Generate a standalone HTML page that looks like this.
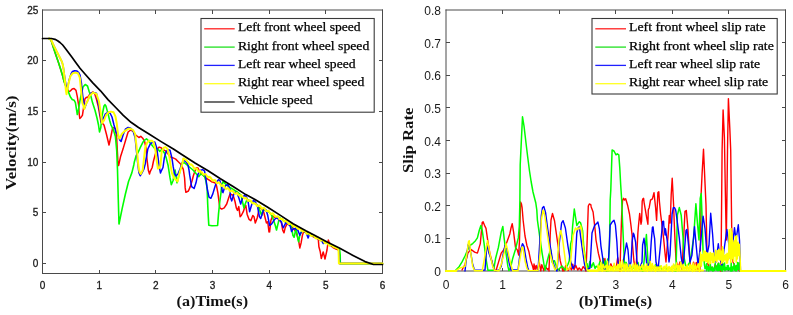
<!DOCTYPE html><html><head><meta charset="utf-8"><style>html,body{margin:0;padding:0;background:#fff;width:793px;height:315px;overflow:hidden}svg{display:block;will-change:transform}</style></head><body><svg width="793" height="315" viewBox="0 0 793 315">
<rect width="793" height="315" fill="#fff"/>
<g stroke="#4a4a4a" stroke-width="1" fill="none" shape-rendering="crispEdges">
</g>
<g stroke="#4a4a4a" stroke-width="1" fill="none"><line x1="42.5" y1="9.5" x2="42.5" y2="274"/><line x1="382.5" y1="9.5" x2="382.5" y2="274"/><line x1="42" y1="10.0" x2="383" y2="10.0"/><line x1="42" y1="273.5" x2="383" y2="273.5"/></g>
<g stroke="#4a4a4a" stroke-width="1" fill="none" shape-rendering="crispEdges">
<line x1="99.2" y1="273.5" x2="99.2" y2="270.0"/><line x1="99.2" y1="10.0" x2="99.2" y2="13.5"/>
<line x1="155.8" y1="273.5" x2="155.8" y2="270.0"/><line x1="155.8" y1="10.0" x2="155.8" y2="13.5"/>
<line x1="212.5" y1="273.5" x2="212.5" y2="270.0"/><line x1="212.5" y1="10.0" x2="212.5" y2="13.5"/>
<line x1="269.2" y1="273.5" x2="269.2" y2="270.0"/><line x1="269.2" y1="10.0" x2="269.2" y2="13.5"/>
<line x1="325.8" y1="273.5" x2="325.8" y2="270.0"/><line x1="325.8" y1="10.0" x2="325.8" y2="13.5"/>
<line x1="42.5" y1="263.4" x2="46.0" y2="263.4"/><line x1="382.5" y1="263.4" x2="379.0" y2="263.4"/>
<line x1="42.5" y1="212.7" x2="46.0" y2="212.7"/><line x1="382.5" y1="212.7" x2="379.0" y2="212.7"/>
<line x1="42.5" y1="162.0" x2="46.0" y2="162.0"/><line x1="382.5" y1="162.0" x2="379.0" y2="162.0"/>
<line x1="42.5" y1="111.3" x2="46.0" y2="111.3"/><line x1="382.5" y1="111.3" x2="379.0" y2="111.3"/>
<line x1="42.5" y1="60.7" x2="46.0" y2="60.7"/><line x1="382.5" y1="60.7" x2="379.0" y2="60.7"/>
</g>
<g font-family="Liberation Sans, sans-serif" font-size="10" fill="#1a1a1a" stroke="#1a1a1a" stroke-width="0.3">
<text x="42.5" y="288.8" text-anchor="middle">0</text>
<text x="99.2" y="288.8" text-anchor="middle">1</text>
<text x="155.8" y="288.8" text-anchor="middle">2</text>
<text x="212.5" y="288.8" text-anchor="middle">3</text>
<text x="269.2" y="288.8" text-anchor="middle">4</text>
<text x="325.8" y="288.8" text-anchor="middle">5</text>
<text x="382.5" y="288.8" text-anchor="middle">6</text>
<text x="38.3" y="267.0" text-anchor="end">0</text>
<text x="38.3" y="216.3" text-anchor="end">5</text>
<text x="38.3" y="165.6" text-anchor="end">10</text>
<text x="38.3" y="114.9" text-anchor="end">15</text>
<text x="38.3" y="64.3" text-anchor="end">20</text>
<text x="38.3" y="13.6" text-anchor="end">25</text>
</g>
<polyline points="49.0,38.5 51.0,40.0 53.2,46.9 55.7,54.5 58.3,62.1 60.8,69.7 62.7,76.1 63.8,80.5 65.2,84.5 67.0,88.0 68.4,91.6 70.3,91.0 72.2,89.0 74.1,88.5 76.0,90.4 77.3,96.7 78.6,105.0 79.2,114.0 79.8,118.5 81.1,117.2 82.4,115.3 83.6,107.7 84.9,99.0 86.2,97.5 88.0,97.0 90.0,94.0 92.6,92.0 94.5,93.2 96.4,99.0 98.3,106.6 99.6,114.2 100.9,121.8 104.0,125.0 106.5,134.5 109.0,145.0 111.0,136.0 112.5,128.5 114.0,127.5 115.4,128.8 116.7,138.0 117.3,150.4 118.0,163.0 118.6,165.5 120.5,156.8 123.0,149.1 125.6,140.2 128.1,132.0 130.7,130.0 133.2,131.4 135.7,135.0 138.9,137.5 140.8,136.3 142.7,138.2 144.6,141.3 145.9,147.7 147.1,160.4 148.4,170.6 149.5,174.0 150.3,171.3 152.2,167.5 153.5,161.0 155.4,154.0 157.3,149.0 159.2,147.1 161.1,147.7 163.0,149.6 165.6,150.9 168.1,154.0 170.6,157.2 173.2,157.9 175.7,159.1 178.3,161.7 180.8,164.2 183.3,169.3 184.6,178.0 185.2,187.9 185.9,192.3 188.4,191.0 190.3,186.6 192.2,180.2 193.5,175.2 195.0,171.0 196.3,167.7 198.0,168.0 200.0,172.0 203.0,175.0 205.5,177.5 207.7,179.1 209.6,180.4 211.5,181.7 213.4,182.3 215.3,183.0 216.6,186.1 217.9,193.1 218.8,200.0 219.8,207.9 221.7,209.1 224.2,207.9 226.7,204.0 228.7,197.7 230.0,194.0 233.1,195.2 235.0,201.5 236.3,207.9 237.5,210.4 238.8,206.6 240.1,216.7 241.3,215.5 243.3,211.7 244.5,207.9 245.8,205.3 247.1,214.2 249.0,219.3 250.9,220.6 252.8,215.5 254.0,216.7 255.3,223.1 257.2,218.0 258.5,212.0 259.4,207.7 261.0,208.0 263.6,211.7 265.5,219.3 266.4,222.9 267.7,221.7 269.0,232.0 269.6,231.8 270.9,220.4 272.5,216.0 276.0,218.0 279.0,219.0 281.4,222.6 282.7,230.2 284.0,232.8 285.2,227.7 287.0,224.0 290.0,225.0 293.0,228.0 296.0,232.0 298.6,240.4 299.8,248.0 301.1,242.9 302.4,235.3 303.7,231.5 306.0,232.0 309.4,234.0 312.0,236.0 315.0,237.5 318.3,239.1 318.9,246.7 320.2,251.5 321.3,258.5 323.2,252.0 325.0,259.0 327.0,250.0 328.3,240.0 329.0,241.7 331.0,246.0 333.0,247.5 336.0,249.0 338.6,250.0 339.2,255.0 339.6,263.6 382.5,263.6" fill="none" stroke="#ff0000" stroke-width="1.5" stroke-linejoin="round" stroke-linecap="round"/>
<polyline points="49.0,38.5 51.0,40.0 53.2,46.9 55.7,54.5 58.3,62.1 60.8,69.7 62.7,76.1 63.8,80.5 65.2,85.0 67.8,90.4 70.3,96.8 72.2,99.5 74.1,100.2 75.4,102.6 76.6,110.2 77.3,114.5 78.6,109.0 79.8,101.3 81.1,95.0 83.0,87.0 85.2,84.5 87.5,86.0 89.3,92.0 90.6,95.0 92.5,102.6 95.0,110.2 97.0,118.0 98.5,125.0 99.5,132.0 100.8,127.5 102.0,116.0 104.0,106.0 105.0,104.7 105.9,105.9 107.8,112.9 109.7,120.5 111.0,125.0 113.5,130.1 115.4,136.4 116.7,150.4 117.5,170.0 118.3,200.0 119.0,224.0 122.2,208.3 125.4,194.0 128.6,181.3 130.0,177.7 131.9,172.6 133.8,165.0 134.4,161.7 136.3,155.3 138.3,152.0 140.2,147.7 142.7,142.6 144.6,140.1 146.5,138.8 149.0,141.3 151.0,143.9 153.5,147.1 155.4,149.0 157.9,149.0 159.8,151.5 161.7,149.6 164.3,152.8 166.2,157.9 168.1,165.5 170.0,177.7 171.3,184.7 173.2,180.2 174.4,172.6 175.1,170.1 176.0,176.0 177.0,182.8 178.3,177.7 180.2,170.1 182.1,163.0 184.6,162.9 187.0,165.0 190.0,167.5 193.0,170.0 196.0,173.5 198.8,176.6 200.7,174.0 202.6,174.7 204.5,176.6 205.8,180.4 207.1,188.0 207.7,204.0 208.3,216.7 208.8,225.3 212.0,225.8 217.6,225.5 218.5,214.0 219.8,201.5 221.0,192.6 221.7,185.0 223.0,181.7 226.0,184.5 230.0,187.5 234.0,190.0 238.0,192.5 241.0,195.0 243.9,207.9 245.2,204.0 247.0,199.5 251.0,201.5 255.0,203.5 258.0,206.0 259.8,210.4 261.7,215.5 263.0,210.0 266.0,210.5 269.0,212.0 270.9,214.0 272.8,217.9 275.3,225.5 276.5,230.0 278.3,222.6 279.5,217.5 283.0,220.5 287.0,223.0 290.5,225.0 291.6,227.7 292.9,235.3 294.1,237.2 295.4,231.5 296.0,227.7 296.7,231.5 297.9,239.1 298.6,241.7 299.8,235.3 302.0,230.5 306.8,232.5 308.1,234.5 310.0,234.0 314.0,236.2 317.0,237.8 320.0,239.3 325.0,242.2 330.0,244.8 335.0,247.2 339.6,249.5 340.2,255.0 340.3,263.6 382.5,263.6" fill="none" stroke="#00ff00" stroke-width="1.6" stroke-linejoin="round" stroke-linecap="round"/>
<polyline points="49.0,38.5 51.0,39.5 53.8,45.6 57.0,52.0 60.2,58.3 62.1,62.1 63.3,67.2 64.2,73.6 65.3,81.0 66.5,88.0 67.5,88.5 69.0,80.2 71.0,74.0 72.5,71.5 74.7,70.7 77.0,71.0 78.9,72.8 80.0,75.0 81.4,82.9 82.7,95.6 83.6,101.3 84.9,107.7 86.5,103.0 88.0,100.0 90.7,93.2 93.2,92.6 96.4,93.2 97.7,100.2 99.6,110.4 100.9,118.0 101.5,123.0 102.8,119.3 105.3,114.2 107.8,112.3 110.0,113.0 112.0,117.0 114.0,125.0 116.0,132.0 118.0,135.2 119.9,140.2 121.1,141.5 123.0,135.2 125.6,128.8 128.1,127.5 130.7,128.2 133.2,131.4 135.1,137.7 136.4,150.4 137.7,163.1 138.9,172.6 140.2,175.8 142.1,172.6 144.0,168.8 145.2,164.0 147.8,149.0 150.3,143.9 152.2,142.6 154.8,142.0 156.7,147.7 157.9,156.6 159.2,166.7 160.5,173.1 161.1,171.3 163.0,167.5 164.3,157.9 166.2,151.5 168.1,149.6 170.0,150.2 171.9,157.9 173.2,166.7 174.4,173.1 176.0,176.0 178.0,174.0 180.0,169.0 183.3,160.0 185.9,161.7 187.8,164.2 189.0,170.0 189.7,175.2 191.6,186.6 194.1,188.5 196.0,182.8 197.5,175.3 198.8,172.8 200.7,170.2 202.6,169.6 204.5,170.9 205.8,177.9 207.1,188.0 209.0,197.1 210.9,198.3 212.8,193.9 214.7,187.5 216.6,181.7 218.5,179.8 219.8,180.4 221.7,186.7 222.3,191.8 223.0,192.6 224.2,188.8 225.5,185.5 228.0,184.8 229.9,189.3 230.6,197.7 231.8,200.9 233.1,196.4 234.4,192.6 236.9,192.6 238.8,197.7 240.7,204.0 242.6,197.7 244.5,195.2 246.5,197.0 248.3,202.8 249.6,211.7 251.5,205.3 253.4,200.2 255.5,202.0 257.5,206.4 259.4,216.6 260.7,218.5 262.6,212.8 263.9,209.0 266.0,210.0 267.7,215.3 269.6,225.5 271.5,224.2 274.0,220.4 276.0,217.9 278.0,218.5 279.8,220.4 281.4,222.0 282.3,225.5 283.3,227.7 284.6,225.2 285.9,222.6 288.0,223.5 290.3,226.4 291.6,231.5 292.9,229.0 295.0,228.5 297.9,230.2 299.8,235.3 301.1,232.5 303.0,231.0 306.0,232.2 308.1,238.0 309.4,234.5 312.0,235.0 315.7,237.0 318.0,238.5 322.1,241.5 323.3,243.5 325.0,242.5 330.3,244.5 334.0,246.3 338.6,248.8 339.2,255.0 339.6,263.6 382.5,263.6" fill="none" stroke="#0000ff" stroke-width="1.5" stroke-linejoin="round" stroke-linecap="round"/>
<polyline points="49.0,38.5 51.0,39.5 53.8,45.6 57.0,52.0 60.2,58.3 62.1,62.1 63.3,67.2 64.0,73.6 64.6,78.0 65.3,84.0 65.9,90.4 66.5,94.2 68.4,84.0 70.3,76.4 72.8,73.2 75.4,72.6 77.9,73.2 79.8,77.7 81.1,90.4 82.4,103.0 83.5,106.0 84.3,109.0 85.5,105.0 86.8,102.6 88.0,100.0 89.3,96.3 91.5,94.0 93.2,92.6 96.4,93.9 99.0,101.5 100.9,114.2 102.1,123.0 104.0,120.5 105.9,115.5 108.5,112.3 111.0,111.6 113.6,112.3 115.5,116.7 116.7,123.0 118.0,134.0 119.3,138.5 120.0,137.7 121.8,134.0 124.3,131.4 128.1,128.8 130.7,128.8 133.2,130.1 135.1,133.9 136.4,145.3 137.7,158.0 138.3,165.0 139.5,171.8 140.8,173.9 142.7,170.1 143.3,165.0 145.2,147.7 147.1,142.6 149.0,140.7 151.6,140.7 153.5,142.0 155.4,150.2 156.7,160.4 157.9,168.5 159.8,167.5 160.5,165.0 161.7,151.5 163.7,147.7 165.6,147.1 167.5,149.0 169.4,156.6 170.6,165.5 171.9,173.1 173.8,177.7 177.6,181.5 178.9,175.2 180.8,168.8 182.1,165.0 183.3,158.5 185.9,159.8 188.4,162.7 189.3,163.9 190.3,164.7 191.2,164.3 192.2,165.2 193.1,166.3 194.1,168.4 195.0,168.5 195.9,168.8 196.7,168.5 197.6,170.1 198.5,171.3 199.4,171.9 200.2,170.8 201.1,172.0 201.9,172.2 202.8,174.0 203.6,174.6 204.4,174.2 205.2,174.1 206.1,174.6 206.9,176.4 207.7,176.5 208.6,177.5 209.5,176.8 210.4,177.4 211.3,178.6 212.2,180.4 213.1,180.3 214.0,180.5 214.8,180.0 215.6,180.9 216.4,182.9 217.2,183.3 218.0,182.7 218.8,182.3 219.6,183.2 220.4,184.3 221.2,185.8 222.1,186.0 222.9,185.2 223.7,185.4 224.5,187.0 225.3,188.4 226.2,189.0 227.0,188.5 227.9,188.1 228.7,188.7 229.6,190.7 230.5,191.4 231.4,190.9 232.2,190.5 233.1,191.8 233.9,192.6 234.8,193.7 235.6,193.7 236.5,192.9 237.3,193.2 238.2,194.8 239.0,195.0 239.9,196.1 240.7,195.3 241.6,195.4 242.4,196.8 243.3,197.3 244.1,198.6 244.9,198.5 245.7,197.7 246.6,198.6 247.4,200.1 248.2,201.0 249.0,200.5 249.9,200.3 250.7,200.4 251.6,201.9 252.4,203.1 253.3,203.6 254.1,203.3 255.0,203.6 255.9,203.9 256.7,205.5 257.6,206.2 258.4,205.5 259.3,205.4 260.1,205.9 261.0,207.3 261.8,208.8 262.7,208.4 263.5,207.8 264.4,208.2 265.2,209.7 266.0,210.8 266.9,211.2 267.7,211.0 268.6,210.6 269.5,212.2 270.4,213.7 271.3,214.1 272.2,213.2 273.1,213.4 274.0,215.0 274.9,216.1 275.8,216.8 276.7,216.6 277.7,216.2 278.6,217.4 279.5,219.2 280.4,218.8 281.2,219.1 282.1,218.7 282.9,219.8 283.7,220.9 284.5,221.6 285.4,221.0 286.2,220.8 287.0,222.0 287.9,222.7 288.7,224.0 289.6,223.9 290.5,223.3 291.4,223.7 292.2,225.2 293.1,225.6 293.9,226.4 294.8,226.0 295.6,225.9 296.5,227.2 297.3,228.3 298.2,229.1 299.0,228.6 299.9,228.1 300.7,228.9 301.6,230.5 302.4,231.4 303.2,231.3 304.1,230.6 304.9,230.8 305.8,232.3 306.6,233.7 307.5,233.7 308.3,233.4 309.2,233.0 310.0,234.4 310.9,235.7 311.9,235.9 312.8,235.4 313.8,235.3 314.7,236.7 315.6,238.2 316.5,238.5 317.4,237.9 318.2,237.6 319.1,239.3 320.0,239.5 320.9,240.8 321.8,240.1 322.7,240.0 323.6,241.1 324.4,242.7 325.3,243.3 326.2,242.7 327.1,243.4 327.9,243.6 328.8,244.9 329.6,245.7 330.5,244.9 331.3,244.9 332.2,245.4 333.0,246.5 338.4,248.7 338.7,255.0 338.9,263.6 382.5,263.6" fill="none" stroke="#ffff00" stroke-width="2.0" stroke-linejoin="round" stroke-linecap="round"/>
<polyline points="42.5,38.5 51.4,38.5 55.0,39.3 57.6,40.7 60.0,42.5 62.7,45.0 66.0,49.2 69.0,53.3 72.0,57.3 75.4,62.0 80.0,68.2 85.2,74.3 92.8,82.9 100.5,90.8 108.0,99.6 115.7,107.5 123.3,115.3 131.0,122.3 138.5,127.5 148.6,133.8 161.1,141.6 173.8,149.3 181.4,154.3 195.0,163.0 207.7,170.5 220.4,178.7 233.1,186.5 245.8,194.6 255.0,199.6 267.7,207.3 280.4,215.4 293.1,223.7 305.8,230.8 314.5,235.3 327.1,241.9 339.8,248.3 353.0,255.4 365.0,261.6 373.5,264.5 382.5,264.5" fill="none" stroke="#000000" stroke-width="1.7" stroke-linejoin="round" stroke-linecap="round"/>
<g stroke="#4a4a4a" stroke-width="1" fill="none" shape-rendering="crispEdges">
</g>
<g stroke="#4a4a4a" stroke-width="1" fill="none"><line x1="446.0" y1="9.5" x2="446.0" y2="271.5"/><line x1="785.5" y1="9.5" x2="785.5" y2="271.5"/><line x1="445.5" y1="10.0" x2="786" y2="10.0"/><line x1="445.5" y1="271.0" x2="786" y2="271.0"/></g>
<g stroke="#4a4a4a" stroke-width="1" fill="none" shape-rendering="crispEdges">
<line x1="502.6" y1="271.0" x2="502.6" y2="267.5"/><line x1="502.6" y1="10.0" x2="502.6" y2="13.5"/>
<line x1="559.2" y1="271.0" x2="559.2" y2="267.5"/><line x1="559.2" y1="10.0" x2="559.2" y2="13.5"/>
<line x1="615.8" y1="271.0" x2="615.8" y2="267.5"/><line x1="615.8" y1="10.0" x2="615.8" y2="13.5"/>
<line x1="672.3" y1="271.0" x2="672.3" y2="267.5"/><line x1="672.3" y1="10.0" x2="672.3" y2="13.5"/>
<line x1="728.9" y1="271.0" x2="728.9" y2="267.5"/><line x1="728.9" y1="10.0" x2="728.9" y2="13.5"/>
<line x1="446.0" y1="238.4" x2="449.5" y2="238.4"/><line x1="785.5" y1="238.4" x2="782.0" y2="238.4"/>
<line x1="446.0" y1="205.8" x2="449.5" y2="205.8"/><line x1="785.5" y1="205.8" x2="782.0" y2="205.8"/>
<line x1="446.0" y1="173.1" x2="449.5" y2="173.1"/><line x1="785.5" y1="173.1" x2="782.0" y2="173.1"/>
<line x1="446.0" y1="140.5" x2="449.5" y2="140.5"/><line x1="785.5" y1="140.5" x2="782.0" y2="140.5"/>
<line x1="446.0" y1="107.9" x2="449.5" y2="107.9"/><line x1="785.5" y1="107.9" x2="782.0" y2="107.9"/>
<line x1="446.0" y1="75.3" x2="449.5" y2="75.3"/><line x1="785.5" y1="75.3" x2="782.0" y2="75.3"/>
<line x1="446.0" y1="42.6" x2="449.5" y2="42.6"/><line x1="785.5" y1="42.6" x2="782.0" y2="42.6"/>
</g>
<g font-family="Liberation Sans, sans-serif" font-size="12" fill="#1a1a1a">
<text x="446.0" y="288.5" text-anchor="middle">0</text>
<text x="502.6" y="288.5" text-anchor="middle">1</text>
<text x="559.2" y="288.5" text-anchor="middle">2</text>
<text x="615.8" y="288.5" text-anchor="middle">3</text>
<text x="672.3" y="288.5" text-anchor="middle">4</text>
<text x="728.9" y="288.5" text-anchor="middle">5</text>
<text x="785.5" y="288.5" text-anchor="middle">6</text>
<text x="441.0" y="276.0" text-anchor="end">0</text>
<text x="441.0" y="243.4" text-anchor="end">0.1</text>
<text x="441.0" y="210.8" text-anchor="end">0.2</text>
<text x="441.0" y="178.1" text-anchor="end">0.3</text>
<text x="441.0" y="145.5" text-anchor="end">0.4</text>
<text x="441.0" y="112.9" text-anchor="end">0.5</text>
<text x="441.0" y="80.3" text-anchor="end">0.6</text>
<text x="441.0" y="47.6" text-anchor="end">0.7</text>
<text x="441.0" y="15.0" text-anchor="end">0.8</text>
</g>
<polyline points="462.0,270.0 465.0,264.5 467.9,253.1 470.8,249.3 474.6,252.1 477.4,253.1 480.3,243.6 482.2,222.6 483.1,221.7 485.0,226.4 486.0,228.3 487.9,241.7 489.8,253.1 492.7,264.5 494.6,270.2 496.0,270.5 498.4,262.6 501.2,253.1 504.1,249.3 507.0,241.7 509.8,234.0 511.0,228.0 512.2,223.6 513.6,232.1 515.5,247.4 517.4,250.2 518.7,255.0 519.5,240.0 520.2,215.0 520.6,202.0 521.5,204.0 522.1,207.6 523.1,220.0 525.0,236.0 526.9,245.5 528.8,251.2 530.7,260.7 532.6,266.4 533.6,270.2 534.0,264.0 535.2,269.2 536.2,265.4 537.6,270.8 539.2,262.2 540.8,270.8 541.8,264.7 543.9,270.7 545.1,266.0 547.3,269.4 548.7,268.2 549.0,271.0 550.2,235.0 551.0,220.0 552.5,213.5 554.5,220.7 556.4,234.0 558.3,247.4 560.2,260.7 562.1,268.3 563.0,271.0 563.0,268.2 564.5,270.7 565.7,265.5 568.0,270.6 569.9,267.1 571.5,269.8 572.7,264.3 574.1,269.6 575.8,265.5 577.7,270.0 579.2,267.9 581.3,270.5 583.2,266.6 585.5,269.5 586.0,271.0 587.0,245.0 588.3,206.0 589.3,204.0 590.8,204.6 591.2,206.9 593.1,212.0 595.0,228.8 596.0,240.0 598.4,253.4 600.9,263.5 602.0,270.0 602.0,266.6 603.0,269.2 604.9,258.5 606.3,270.8 608.0,264.5 609.6,267.3 610.9,263.8 612.5,268.6 614.0,265.2 616.0,269.0 617.7,257.6 619.4,268.3 620.0,271.0 620.7,245.0 621.7,213.6 622.6,200.2 623.6,198.3 624.4,200.1 625.7,198.8 627.6,205.2 629.5,214.0 630.8,224.2 632.1,235.0 632.5,245.0 634.0,262.0 636.0,270.0 637.9,232.6 638.4,226.7 639.7,213.4 641.0,224.2 641.6,221.2 642.2,201.3 642.9,198.8 643.6,198.3 644.1,202.6 645.4,210.2 646.7,217.9 647.9,224.2 648.3,209.8 649.2,207.7 650.5,200.1 652.4,198.8 654.0,192.6 655.6,207.7 656.6,220.4 657.9,192.6 658.8,191.7 659.4,201.3 660.6,214.0 661.9,224.2 663.6,238.3 665.0,253.0 666.0,262.0 668.3,232.6 669.3,215.5 670.2,223.1 671.2,194.5 672.2,178.3 673.6,205.0 674.1,219.0 675.0,240.0 676.0,260.0 678.0,268.0 680.0,262.0 682.0,270.0 685.0,211.4 686.3,210.5 687.9,228.6 689.4,253.3 690.5,268.0 690.5,267.2 691.8,270.0 693.6,262.1 695.2,270.5 696.3,262.4 698.2,270.7 699.5,264.5 700.0,271.0 701.2,192.6 702.1,173.6 703.5,149.2 705.0,183.1 706.0,205.0 706.9,249.5 708.0,265.0 708.0,262.5 709.5,269.5 711.6,267.2 713.7,270.2 715.2,264.3 717.3,268.4 718.4,263.1 719.7,270.4 721.0,271.0 722.1,150.0 723.1,110.0 724.4,137.6 725.5,200.0 726.3,240.0 726.9,200.0 727.5,150.0 728.4,98.6 729.8,128.1 730.7,150.0 731.7,228.6 733.0,262.0 736.0,268.0 740.0,271.0" fill="none" stroke="#ff0000" stroke-width="1.4" stroke-linejoin="round" stroke-linecap="round"/>
<polyline points="446.0,271.0 455.5,270.6 459.3,266.4 462.2,261.7 465.0,256.0 467.9,249.3 469.8,245.5 472.7,243.6 475.5,240.7 477.4,237.9 479.3,230.2 480.9,225.5 482.2,230.2 484.1,243.6 486.0,258.8 487.9,270.2 493.6,270.2 495.5,258.8 498.4,247.4 501.2,232.1 502.8,226.4 504.1,237.9 506.0,253.1 507.9,266.4 508.9,270.6 510.5,268.0 512.6,258.8 515.5,249.3 518.3,237.9 519.3,226.4 519.9,200.0 520.2,165.0 522.5,116.8 524.0,126.0 526.0,143.0 527.7,157.0 529.5,171.0 531.2,182.0 533.0,192.0 535.8,203.0 536.8,210.0 537.4,220.0 538.3,226.4 540.2,239.8 542.1,253.1 544.0,264.5 545.0,270.2 547.0,262.0 548.8,255.0 550.7,250.0 552.0,262.0 554.5,260.7 556.4,266.4 558.0,270.0 562.0,266.0 565.0,270.0 567.9,264.5 569.2,261.0 570.7,243.6 571.7,240.0 572.6,226.4 574.3,209.0 576.8,225.5 579.3,221.7 580.6,222.9 582.6,230.7 583.6,245.0 585.7,261.0 587.0,270.0 587.0,263.4 588.3,271.0 589.8,261.4 591.5,267.3 593.3,262.7 595.1,268.4 596.1,266.2 598.1,267.6 600.0,261.6 601.5,270.6 603.3,258.6 604.3,270.2 605.5,261.1 606.5,271.0 607.7,258.9 608.0,271.0 609.5,245.0 610.2,200.0 610.8,190.0 612.1,150.0 614.0,151.0 616.0,154.8 617.3,153.8 618.8,154.8 619.8,168.1 620.7,185.0 621.7,200.2 622.6,223.1 623.6,245.0 624.5,265.0 626.0,270.0 626.0,262.2 628.6,269.3 630.0,263.6 631.8,270.0 633.2,267.3 636.0,269.7 638.0,262.5 639.3,270.1 640.9,267.2 642.4,270.9 643.0,271.0 644.0,262.0 646.4,234.5 648.0,262.0 648.0,266.0 649.4,269.7 650.7,266.0 653.4,268.9 655.8,264.5 657.5,270.6 660.0,266.0 662.4,270.2 664.0,267.5 666.8,269.0 669.2,267.6 671.6,270.5 673.7,265.0 674.9,270.9 676.0,271.0 677.4,215.0 679.3,207.6 681.2,215.2 683.1,238.1 684.0,257.0 686.0,268.0 690.0,262.0 693.6,238.1 695.9,203.8 697.4,222.9 699.0,240.0 700.2,198.3 701.2,193.6 702.0,215.0 703.0,250.0 704.5,265.5 704.5,264.1 705.0,268.7 705.5,268.2 706.1,268.7 706.5,263.8 706.8,270.7 707.2,266.3 707.8,269.0 708.2,266.5 708.8,271.0 709.3,268.0 709.8,269.2 710.3,263.6 710.8,270.3 711.4,268.4 711.8,270.2 712.4,266.9 712.7,270.9 713.1,268.0 713.6,270.8 714.2,268.5 714.7,270.3 715.2,263.3 715.4,268.7 715.9,265.7 716.5,270.1 717.1,267.5 717.5,270.5 717.9,264.0 718.3,270.5 718.8,263.3 719.4,270.3 719.8,266.1 720.4,270.1 721.0,265.6 721.4,269.8 721.7,265.2 722.1,271.2 722.6,263.5 723.1,269.3 723.5,264.5 724.0,269.8 724.5,263.1 725.0,270.6 725.4,267.2 725.8,269.7 726.4,268.1 726.8,269.6 727.3,265.6 727.8,270.0 728.2,265.4 728.8,269.4 729.4,268.2 729.8,269.7 730.4,267.6 730.7,270.9 731.2,262.9 731.5,271.0 732.0,267.3 732.6,270.8 733.1,266.5 733.5,268.9 734.1,263.8 734.7,270.2 735.1,268.5 735.7,270.8 736.1,265.6 736.5,270.7 736.9,266.9 737.2,269.8 737.6,262.6 738.0,269.6 738.5,262.9 739.1,269.1 739.7,263.1 740.0,271.2 740.5,271.0" fill="none" stroke="#00ff00" stroke-width="1.5" stroke-linejoin="round" stroke-linecap="round"/>
<polyline points="465.0,271.0 466.0,262.0 468.0,245.0 469.0,243.0 470.8,253.1 472.7,264.5 474.6,270.2 485.0,270.0 487.0,243.6 488.9,253.1 491.7,260.7 493.6,268.3 495.0,271.0 499.0,270.0 501.2,266.4 503.0,255.0 505.0,245.5 507.0,249.3 509.0,262.0 511.0,270.0 518.0,270.0 520.5,250.0 522.5,243.6 524.0,246.4 526.0,258.8 527.9,268.3 529.0,271.0 538.0,271.0 540.5,230.0 541.3,215.3 542.5,207.7 543.8,206.4 545.6,212.8 547.6,228.0 550.2,245.8 552.7,261.0 555.2,268.6 557.0,271.0 559.0,245.8 561.6,222.9 563.1,220.7 565.4,228.0 567.9,245.8 570.5,261.0 573.0,268.6 575.0,265.0 576.8,233.0 578.1,228.0 579.3,226.7 581.9,245.8 584.4,263.5 586.0,270.0 590.0,268.0 592.0,233.0 594.6,225.5 597.1,222.9 597.9,222.1 599.4,228.8 600.9,245.8 603.5,263.5 605.0,270.0 608.0,270.0 609.3,245.0 610.2,225.0 612.1,222.1 614.0,220.2 615.4,225.0 616.9,242.1 618.0,262.0 620.0,270.0 622.0,268.0 624.5,255.0 626.5,243.0 628.0,250.0 629.5,268.0 631.0,262.0 632.1,242.1 633.3,233.1 634.0,234.5 635.6,242.1 637.0,262.0 639.0,270.0 642.0,262.0 642.6,245.0 644.0,238.3 645.5,250.0 647.0,268.0 650.0,262.0 651.2,242.1 652.4,227.4 653.1,226.9 653.7,233.1 654.6,238.3 656.0,262.0 658.0,270.0 660.0,250.0 661.7,232.6 662.5,221.7 663.6,221.2 663.8,225.5 665.1,235.0 665.5,228.8 667.4,242.1 669.0,262.0 670.0,255.0 672.1,214.0 673.3,207.7 673.6,207.6 674.6,207.7 675.5,209.5 675.9,211.5 677.1,220.4 678.4,230.6 679.3,238.1 681.2,257.1 683.0,268.0 684.5,250.0 686.0,230.5 686.9,229.5 688.8,247.6 690.0,262.0 692.0,255.0 694.5,226.7 696.4,247.6 698.0,265.0 700.0,250.0 703.1,216.2 705.0,228.6 707.0,255.0 709.0,245.0 710.7,213.3 712.6,234.3 714.0,255.0 716.0,262.0 718.3,243.8 720.0,258.0 722.0,265.0 724.0,250.0 726.9,229.5 728.8,243.8 730.0,258.0 732.0,250.0 734.5,227.6 736.0,240.0 738.3,224.8 739.5,240.0 740.5,271.0" fill="none" stroke="#0000ff" stroke-width="1.4" stroke-linejoin="round" stroke-linecap="round"/>
<polyline points="446.0,270.8 455.5,270.8 459.3,268.3 465.0,266.4 467.0,253.1 468.5,241.7 469.2,240.7 470.8,253.1 472.7,266.4 474.6,270.8 482.2,270.8 484.1,260.7 486.0,249.3 487.5,240.7 489.8,253.1 492.7,266.4 494.6,270.8 499.0,270.8 501.2,264.5 504.1,253.1 506.0,243.6 507.9,251.2 510.8,264.5 512.7,270.8 518.0,270.8 520.3,256.9 522.0,247.0 523.1,248.3 525.0,260.7 526.9,268.3 528.5,270.8 538.0,270.8 540.2,253.1 541.3,220.4 543.0,210.2 543.5,210.5 545.1,217.8 547.6,235.6 550.2,253.4 552.7,263.5 555.0,270.0 557.0,268.0 559.0,238.1 560.8,230.5 562.8,240.7 565.4,261.0 567.0,270.0 570.0,268.0 573.0,235.6 575.5,228.0 576.9,229.8 578.1,228.0 579.8,228.8 580.6,225.5 581.7,229.8 582.6,238.3 583.1,245.8 585.7,263.5 587.0,270.0 590.0,271.0 598.0,271.0 598.0,265.1 599.6,270.2 600.9,262.6 602.2,271.3 603.1,264.2 604.5,268.1 606.2,265.4 606.9,269.7 607.6,261.3 608.2,270.4 609.7,265.4 610.9,270.3 611.8,266.8 613.3,270.7 614.1,263.3 615.6,269.3 616.6,266.2 617.2,269.2 618.3,264.5 619.0,269.5 619.9,261.7 621.5,271.2 622.4,260.3 623.9,269.6 625.0,263.8 625.7,271.2 626.8,264.0 628.5,270.7 630.0,264.5 631.6,271.2 633.3,264.0 634.8,270.7 635.4,263.0 636.3,270.6 637.4,264.9 638.6,271.0 639.4,266.1 640.2,268.9 641.9,264.9 643.5,270.4 644.2,265.0 645.0,270.8 646.6,264.1 647.3,271.3 648.2,266.3 649.5,269.2 650.3,261.4 651.3,270.9 652.3,263.5 653.3,269.0 654.7,265.2 655.4,271.4 657.0,266.7 657.6,270.3 659.0,266.8 659.7,269.6 661.3,265.7 662.8,270.6 664.2,266.3 665.2,269.3 666.5,264.5 667.7,271.3 669.0,266.4 670.4,269.6 671.7,266.2 672.3,271.4 673.6,263.9 675.0,269.9 676.6,263.0 677.5,271.0 678.3,265.5 679.4,270.7 680.7,262.2 682.2,269.3 683.2,264.2 684.0,269.4 685.5,266.6 686.4,269.9 687.3,264.6 688.6,270.7 690.1,264.7 690.8,268.5 691.4,265.2 692.4,271.5 693.1,263.1 694.6,271.1 695.3,264.7 696.6,269.4 698.2,263.8 699.4,271.5 700.5,252.3 701.4,266.2 702.0,254.4 702.5,260.6 702.8,256.7 703.2,260.9 703.9,251.0 704.7,260.5 705.2,251.1 705.9,261.7 706.6,252.4 707.4,262.3 708.1,253.3 708.8,263.6 709.4,253.9 709.9,258.7 710.2,252.6 710.7,263.5 711.0,253.3 711.8,260.1 712.3,253.8 712.7,262.6 713.4,253.0 714.1,262.6 714.6,256.9 715.0,260.6 715.6,250.2 716.1,261.1 716.4,256.0 716.9,261.9 717.5,250.7 718.0,259.1 718.8,249.2 719.2,259.9 719.9,250.0 720.3,260.0 720.7,251.5 721.0,260.0 721.5,251.2 721.8,263.5 722.4,246.7 722.9,262.1 723.4,249.5 723.8,261.2 724.4,255.5 725.1,259.7 725.9,254.4 726.3,263.3 727.1,253.3 727.5,263.0 727.9,254.3 728.6,259.7 729.2,229.7 729.9,257.7 730.2,245.0 730.8,262.5 731.1,228.5 731.7,259.1 732.0,232.5 732.8,258.4 733.1,242.9 733.6,261.6 734.1,240.8 734.8,256.1 735.5,236.4 736.2,262.2 736.5,235.4 737.3,259.0 738.1,242.2 738.7,255.5 739.4,244.3 740.3,262.0 740.6,271.0 785.5,271.0" fill="none" stroke="#ffff00" stroke-width="1.5" stroke-linejoin="round" stroke-linecap="round"/>
<polyline points="446.0,270.9 456.0,270.9" fill="none" stroke="#ffff00" stroke-width="2.0" stroke-linejoin="round" stroke-linecap="round"/>
<polyline points="740.6,270.9 785.5,270.9" fill="none" stroke="#ffff00" stroke-width="2.0" stroke-linejoin="round" stroke-linecap="round"/>
<polyline points="588.0,270.6 703.0,270.6" fill="none" stroke="#ffff00" stroke-width="2.0" stroke-linejoin="round" stroke-linecap="round"/>
<rect x="201.0" y="18.5" width="173.2" height="93.7" fill="#fff" stroke="#3a3a3a" stroke-width="1.1"/>
<line x1="204.2" y1="28.8" x2="234.7" y2="28.8" stroke="#ff2020" stroke-width="1.3"/>
<text x="237.9" y="31.2" font-family="Liberation Serif, serif" font-size="12.6" fill="#000" stroke="#000" stroke-width="0.25" textLength="122.8" lengthAdjust="spacingAndGlyphs">Left front wheel speed</text>
<line x1="204.2" y1="47.1" x2="234.7" y2="47.1" stroke="#20e020" stroke-width="1.3"/>
<text x="237.9" y="49.5" font-family="Liberation Serif, serif" font-size="12.6" fill="#000" stroke="#000" stroke-width="0.25" textLength="131.4" lengthAdjust="spacingAndGlyphs">Right front wheel speed</text>
<line x1="204.2" y1="65.4" x2="234.7" y2="65.4" stroke="#2020ff" stroke-width="1.3"/>
<text x="237.9" y="67.8" font-family="Liberation Serif, serif" font-size="12.6" fill="#000" stroke="#000" stroke-width="0.25" textLength="117.7" lengthAdjust="spacingAndGlyphs">Left rear wheel speed</text>
<line x1="204.2" y1="83.7" x2="234.7" y2="83.7" stroke="#ffff20" stroke-width="1.3"/>
<text x="237.9" y="86.1" font-family="Liberation Serif, serif" font-size="12.6" fill="#000" stroke="#000" stroke-width="0.25" textLength="126.4" lengthAdjust="spacingAndGlyphs">Right rear wheel speed</text>
<line x1="204.2" y1="102.0" x2="234.7" y2="102.0" stroke="#222" stroke-width="1.3"/>
<text x="237.9" y="104.4" font-family="Liberation Serif, serif" font-size="12.6" fill="#000" stroke="#000" stroke-width="0.25" textLength="74.5" lengthAdjust="spacingAndGlyphs">Vehicle speed</text>
<rect x="592.0" y="18.5" width="185.20000000000005" height="75.5" fill="#fff" stroke="#3a3a3a" stroke-width="1.1"/>
<line x1="595.3" y1="28.8" x2="626" y2="28.8" stroke="#ff2020" stroke-width="1.3"/>
<text x="629.1" y="31.2" font-family="Liberation Serif, serif" font-size="12.6" fill="#000" stroke="#000" stroke-width="0.25" textLength="136.6" lengthAdjust="spacingAndGlyphs">Left front wheel slip rate</text>
<line x1="595.3" y1="47.1" x2="626" y2="47.1" stroke="#20e020" stroke-width="1.3"/>
<text x="629.1" y="49.5" font-family="Liberation Serif, serif" font-size="12.6" fill="#000" stroke="#000" stroke-width="0.25" textLength="144.7" lengthAdjust="spacingAndGlyphs">Right front wheel slip rate</text>
<line x1="595.3" y1="65.4" x2="626" y2="65.4" stroke="#2020ff" stroke-width="1.3"/>
<text x="629.1" y="67.8" font-family="Liberation Serif, serif" font-size="12.6" fill="#000" stroke="#000" stroke-width="0.25" textLength="131.0" lengthAdjust="spacingAndGlyphs">Left rear wheel slip rate</text>
<line x1="595.3" y1="83.7" x2="626" y2="83.7" stroke="#ffff20" stroke-width="1.3"/>
<text x="629.1" y="86.1" font-family="Liberation Serif, serif" font-size="12.6" fill="#000" stroke="#000" stroke-width="0.25" textLength="139.1" lengthAdjust="spacingAndGlyphs">Right rear wheel slip rate</text>
<g font-family="Liberation Serif, serif" font-weight="bold" font-size="14.5" fill="#111">
<text x="212.3" y="306.2" text-anchor="middle" textLength="71.5" lengthAdjust="spacingAndGlyphs">(a)Time(s)</text>
<text x="615.5" y="306.2" text-anchor="middle" textLength="73.6" lengthAdjust="spacingAndGlyphs">(b)Time(s)</text>
<text transform="translate(16,142.75) rotate(-90)" text-anchor="middle" font-size="15.5" textLength="94.3" lengthAdjust="spacingAndGlyphs">Velocity(m/s)</text>
<text transform="translate(413,140.3) rotate(-90)" text-anchor="middle" font-size="15.5" textLength="65.5" lengthAdjust="spacingAndGlyphs">Slip Rate</text>
</g>
</svg></body></html>
